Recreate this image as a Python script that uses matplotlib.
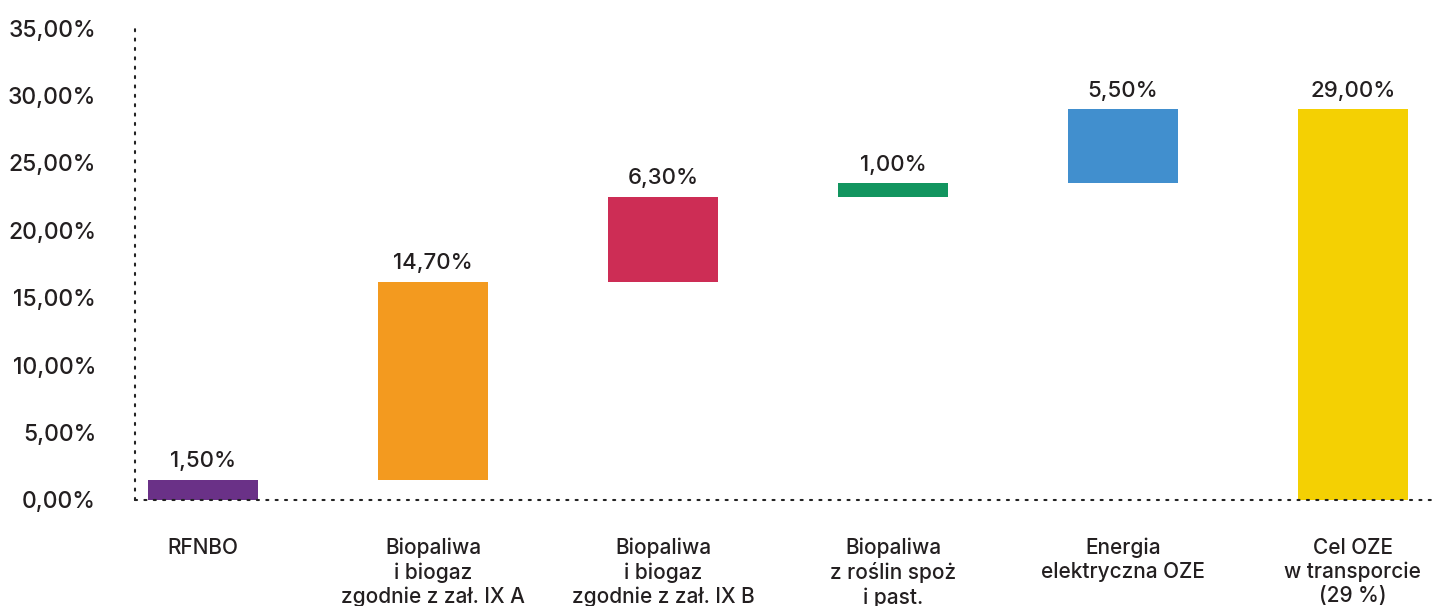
import numpy as np
import matplotlib
import matplotlib.pyplot as plt
from matplotlib.ticker import FuncFormatter, MultipleLocator

matplotlib.use('agg')

plt.rcParams['font.family'] = ['Inter', 'DejaVu Sans']
plt.rcParams['font.weight'] = 'medium'

categories = ['RFNBO',
              'Biopaliwa\ni biogaz\nzgodnie z zał. IX A',
              'Biopaliwa\ni biogaz\nzgodnie z zał. IX B',
              'Biopaliwa\nz roślin spoż\ni past.',
              'Energia\nelektryczna OZE',
              'Cel OZE\nw transporcie\n(29 %)']
steps = [1.5, 14.7, 6.3, 1.0, 5.5]
total = 29.0
colors = ['#6A3187', '#F39A1F', '#CD2D55', '#12955F', '#418FCE', '#F4D003']

text_color = '#231F20'


def pl_pct(v, pos=None):
    return f'{v:.2f}%'.replace('.', ',')


# waterfall: each step starts where the previous one ended, total from zero
bottoms = list(np.concatenate([[0], np.cumsum(steps)[:-1]])) + [0]
heights = steps + [total]
x = np.arange(len(categories))

fig = plt.figure(figsize=(14.35, 6.06), dpi=100)
ax = fig.add_axes([135 / 1435, 106 / 606, 1300 / 1435, 476 / 606])

ax.bar(x, heights, bottom=bottoms, width=0.478, color=colors, zorder=3)

for xi, b, h in zip(x, bottoms, heights):
    ax.annotate(pl_pct(h), (xi, b + h), xytext=(0, 6), textcoords='offset points',
                ha='center', va='bottom', fontsize=16, color=text_color)

ax.set_xlim(-0.296, 5.357)
ax.set_ylim(0, 35.3)
ax.yaxis.set_major_locator(MultipleLocator(5))
ax.yaxis.set_major_formatter(FuncFormatter(pl_pct))
ax.set_xticks(x, categories, fontsize=15, color=text_color, linespacing=1.25)
ax.tick_params(axis='x', length=0, pad=27)
ax.tick_params(axis='y', length=0, pad=28, labelsize=16.5, labelcolor=text_color)

for side in ['top', 'right']:
    ax.spines[side].set_visible(False)
for side in ['left', 'bottom']:
    ax.spines[side].set_linestyle((0, (1, 3.5)))
    ax.spines[side].set_linewidth(1.5)
    ax.spines[side].set_color('#222222')
    ax.spines[side].set_capstyle('round')
    ax.spines[side].set_zorder(4)

fig.savefig('out.png', dpi=100)
